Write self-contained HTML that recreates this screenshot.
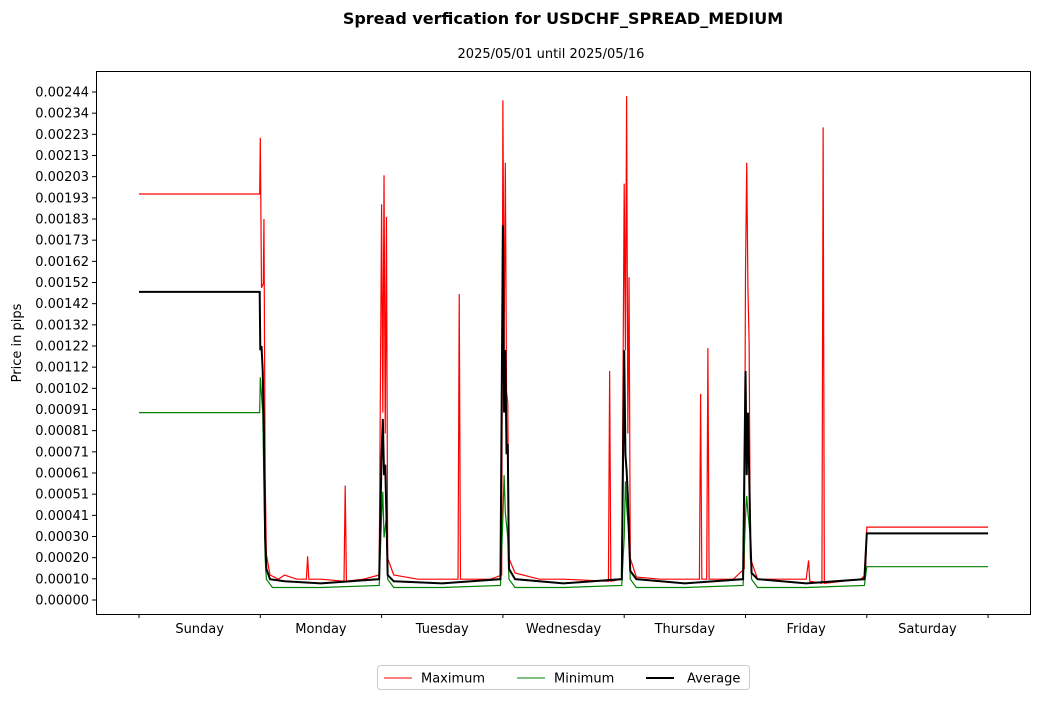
<!DOCTYPE html>
<html><head><meta charset="utf-8"><style>
body{margin:0;background:#fff;font-family:"Liberation Sans","DejaVu Sans",sans-serif;}
svg text{font-family:"DejaVu Sans","Liberation Sans",sans-serif;}
</style></head><body>
<svg id="c" width="1039" height="700">
<text x="563" y="24" text-anchor="middle" font-size="16" font-weight="bold">Spread verfication for USDCHF_SPREAD_MEDIUM</text>
<text x="551" y="58" text-anchor="middle" font-size="13">2025/05/01 until 2025/05/16</text>
<text transform="translate(21,343) rotate(-90)" text-anchor="middle" font-size="13">Price in pips</text>
<g id="plot"></g>
<rect x="96.5" y="71.5" width="934" height="543" fill="none" stroke="#000" stroke-width="1"/>
<g>
<rect x="377.5" y="665.5" width="372" height="24" fill="#fff" stroke="#ccc" rx="3"/>
<line x1="384" y1="678" x2="412" y2="678" stroke="red" stroke-width="1"/>
<text x="421" y="682.5" font-size="13">Maximum</text>
<line x1="517" y1="678" x2="545" y2="678" stroke="green" stroke-width="1"/>
<text x="554" y="682.5" font-size="13">Minimum</text>
<line x1="646" y1="678" x2="674" y2="678" stroke="#000" stroke-width="2"/>
<text x="687" y="682.5" font-size="13">Average</text>
</g>
</svg>
<script>
const dayLabels=["Sunday","Monday","Tuesday","Wednesday","Thursday","Friday","Saturday"];
const yTickLabels=["0.00000","0.00010","0.00020","0.00030","0.00041","0.00051","0.00061","0.00071","0.00081","0.00091","0.00102","0.00112","0.00122","0.00132","0.00142","0.00152","0.00162","0.00173","0.00183","0.00193","0.00203","0.00213","0.00223","0.00234","0.00244"];
const maxT=[0,0.995,1.0,1.01,1.025,1.03,1.04,1.05,1.08,1.15,1.2,1.3,1.38,1.39,1.40,1.5,1.69,1.70,1.71,1.85,1.98,2.0,2.01,2.02,2.03,2.04,2.05,2.1,2.3,2.63,2.64,2.65,2.9,2.99,3.0,3.01,3.02,3.03,3.04,3.05,3.1,3.3,3.5,3.87,3.88,3.89,3.98,4.0,4.01,4.02,4.03,4.04,4.05,4.1,4.3,4.62,4.63,4.64,4.68,4.69,4.70,4.9,4.99,5.0,5.01,5.02,5.03,5.04,5.1,5.5,5.52,5.53,5.63,5.64,5.65,5.95,5.99,6.0,7.0];
const maxV=[0.00195,0.00195,0.00222,0.0015,0.00152,0.00183,0.0006,0.00022,0.00012,0.0001,0.00012,0.0001,0.0001,0.00021,0.0001,0.0001,0.00009,0.00055,0.00009,0.0001,0.00012,0.0019,0.0009,0.00204,0.0008,0.00184,0.0002,0.00012,0.0001,0.0001,0.00147,0.0001,0.0001,0.00012,0.0024,0.0012,0.0021,0.001,0.00095,0.0002,0.00013,0.0001,0.0001,0.00009,0.0011,0.00009,0.0001,0.002,0.0012,0.00242,0.0008,0.00155,0.0002,0.00011,0.0001,0.0001,0.00099,0.0001,0.0001,0.00121,0.0001,0.0001,0.00015,0.00157,0.0021,0.0015,0.00123,0.0002,0.0001,0.0001,0.00019,0.00009,0.00008,0.00227,0.00008,0.0001,0.00012,0.00035,0.00035];
const minT=[0,0.995,1.0,1.02,1.04,1.05,1.1,1.5,1.98,2.0,2.01,2.02,2.04,2.05,2.1,2.5,2.98,3.0,3.01,3.02,3.04,3.05,3.1,3.5,3.98,4.0,4.01,4.02,4.04,4.05,4.1,4.5,4.98,5.0,5.01,5.02,5.04,5.05,5.1,5.5,5.98,6.0,7.0];
const minV=[0.0009,0.0009,0.00107,0.0009,0.0002,0.0001,0.00006,0.00006,0.00007,0.0004,0.00052,0.0003,0.0004,0.0001,0.00006,0.00006,0.00007,0.0004,0.0006,0.00042,0.0003,0.0001,0.00006,0.00006,0.00007,0.0003,0.00057,0.00045,0.0003,0.0001,0.00006,0.00006,0.00007,0.0004,0.0005,0.00042,0.0003,0.0001,0.00006,0.00006,0.00007,0.00016,0.00016];
const avgT=[0,0.995,1.0,1.01,1.02,1.03,1.04,1.05,1.08,1.2,1.5,1.98,2.0,2.01,2.02,2.03,2.04,2.05,2.1,2.5,2.98,3.0,3.01,3.02,3.03,3.04,3.05,3.1,3.5,3.98,4.0,4.01,4.02,4.03,4.04,4.05,4.1,4.5,4.98,5.0,5.01,5.02,5.03,5.04,5.05,5.1,5.5,5.98,6.0,7.0];
const avgV=[0.00148,0.00148,0.0012,0.00122,0.0011,0.0008,0.0003,0.00015,0.0001,0.00009,0.00008,0.0001,0.0007,0.00087,0.0006,0.00065,0.0004,0.00012,0.00009,0.00008,0.0001,0.0018,0.0009,0.0012,0.0007,0.00075,0.00015,0.0001,0.00008,0.0001,0.0012,0.0007,0.00062,0.0005,0.0003,0.00014,0.0001,0.00008,0.0001,0.0011,0.0006,0.0009,0.00062,0.0003,0.00013,0.0001,0.00008,0.0001,0.00032,0.00032];
const NS="http://www.w3.org/2000/svg";
const g=document.getElementById('plot');
const x0=139,dayW=121.3,y0=600,yMax=0.00244,yPx=508;
function xs(d){return x0+d*dayW;}
function ys(v){return y0-v/yMax*yPx;}
function mk(t,a){const e=document.createElementNS(NS,t);for(const k in a)e.setAttribute(k,a[k]);g.appendChild(e);return e;}
yTickLabels.forEach((l,i)=>{const y=y0-i*yPx/(yTickLabels.length-1);
 const t=mk('line',{x1:92,x2:96,y1:y,y2:y,stroke:'#000'});
 
 
 const tx=mk('text',{x:89,y:y+4.5,'text-anchor':'end','font-size':13});tx.textContent=l;
 
 });
for(let i=0;i<=7;i++){const x=xs(i);
 const t=mk('line',{x1:x,x2:x,y1:614,y2:618,stroke:'#000'});
 
 }
dayLabels.forEach((l,i)=>{const tx=mk('text',{x:xs(i+0.5),y:633,'text-anchor':'middle','font-size':13});tx.textContent=l;
 
 });
function line(T,V,c,w,n){const p=mk('polyline',{points:T.map((t,i)=>xs(t)+','+ys(V[i])).join(' '),fill:'none',stroke:c,'stroke-width':w});
 
 }
line(maxT,maxV,'red',1.2,'maximum-line');
line(minT,minV,'green',1.2,'minimum-line');
line(avgT,avgV,'#000',2,'average-line');
</script>
</body></html>
